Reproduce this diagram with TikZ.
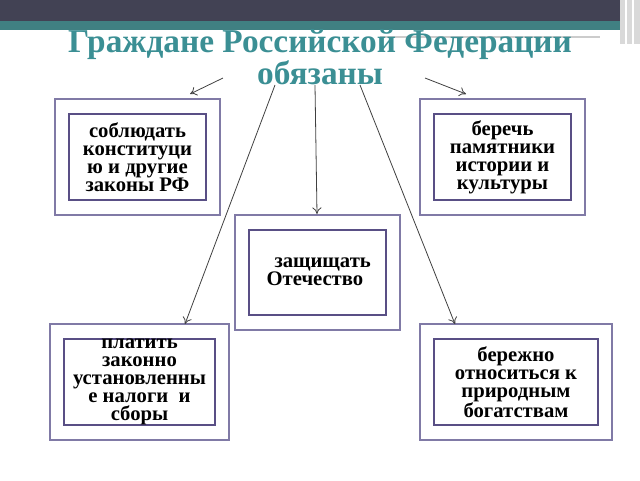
\documentclass[tikz,border=0pt]{standalone}
\usepackage{fontspec}
\usetikzlibrary{arrows.meta}
\setmainfont{Liberation Serif}
\definecolor{headdark}{rgb}{0.26,0.26,0.33}
\definecolor{headteal}{rgb}{0.25,0.50,0.51}
\definecolor{titlecolor}{rgb}{0.23,0.56,0.58}
\definecolor{outerline}{rgb}{0.50,0.48,0.65}
\definecolor{innerline}{rgb}{0.35,0.31,0.52}
\tikzset{
  outerbox/.style={draw=outerline,line width=0.9pt},
  innerbox/.style={draw=innerline,line width=0.9pt},
  duty/.style={align=center,font=\bfseries\fontsize{15.5}{13.5}\selectfont},
  link/.style={draw=black!75,line width=0.6pt,-{To[length=5pt,width=7pt]}}
}
\begin{document}
\begin{tikzpicture}[x=0.75pt,y=-0.75pt]
\useasboundingbox (0,0) rectangle (640,480);
% header
\fill[headdark] (0,0) rectangle (640,21);
\fill[headteal] (0,21) rectangle (625,30);
\draw[white,line width=1.5pt] (0,33) -- (380,33);
\draw[white!80!black,line width=1pt] (380,37) -- (600,37);
\fill[black!15] (620,0) rectangle (640,44);
\draw[white,line width=1pt] (626,0) -- (626,44) (633,0) -- (633,44);
\node[font=\bfseries\fontsize{25}{22}\selectfont,text=titlecolor,align=center] (title) at (320,57) {Граждане Российской Федерации\\обязаны};
% boxes
\draw[outerbox] (55,99) rectangle (220,215);
\draw[innerbox] (69,114) rectangle (206,200);
\node[duty] (law) at (137.5,157) {соблюдать\\конституци\\ю и другие\\законы РФ};
\draw[outerbox] (420,99) rectangle (585,215);
\draw[innerbox] (434,114) rectangle (571,200);
\node[duty] (monuments) at (502.5,157) {беречь\\памятники\\истории и\\культуры};
\draw[outerbox] (235,215) rectangle (400,330);
\draw[innerbox] (249,230) rectangle (386,315);
\node[duty] (defend) at (317.5,272) {\ \ защищать\\Отечество\ \ };
\draw[outerbox] (50,324) rectangle (229,440);
\draw[innerbox] (64,339) rectangle (215,425);
\node[duty] (taxes) at (139.5,382) {платить\\законно\\установленны\\е налоги \ и\\сборы};
\draw[outerbox] (420,324) rectangle (612,440);
\draw[innerbox] (434,339) rectangle (598,425);
\node[duty] (nature) at (516,382) {бережно\\относиться к\\природным\\богатствам};
% arrows
\coordinate (a1) at (223,78);
\coordinate (a2) at (425,78);
\coordinate (a3) at (315,85);
\coordinate (a4) at (275,85);
\coordinate (a5) at (360,85);
\coordinate (e1) at (190,94);
\coordinate (e2) at (466,94);
\coordinate (e3) at (317,214);
\coordinate (e4) at (185,324);
\coordinate (e5) at (455,324);
\draw[link] (a1) -- (e1);
\draw[link] (a2) -- (e2);
\draw[link] (a3) -- (e3);
\draw[link] (a4) -- (e4);
\draw[link] (a5) -- (e5);
\end{tikzpicture}
\end{document}
